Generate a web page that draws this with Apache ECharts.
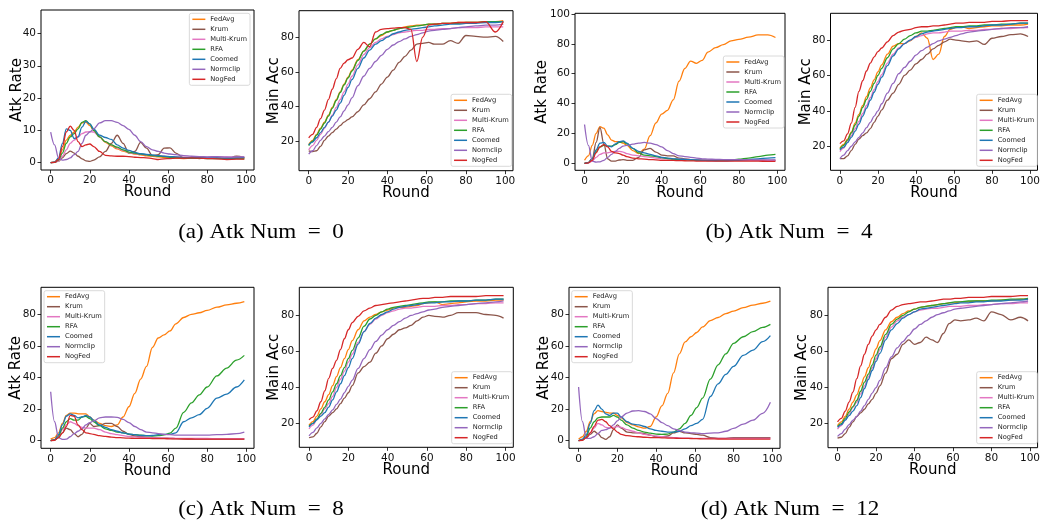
<!DOCTYPE html>
<html><head><meta charset="utf-8">
<script src="https://cdn.jsdelivr.net/npm/echarts@6/dist/echarts.min.js"></script>
<style>html,body{margin:0;padding:0;background:#fff}#c{width:1043px;height:525px}</style>
</head><body><div id="c"></div>
<script>
// ---------------- data ----------------
const rounds = [0,2,4,6,8,10,12,14,16,18,20,22,25,28,31,34,37,40,43,46,49,52,55,58,61,64,68,72,76,80,85,90,95,99];
const methods = ['FedAvg','Krum','Multi-Krum','RFA','Coomed','Normclip','NogFed'];
const colors = ['#ff7f0e','#8c564b','#e377c2','#2ca02c','#1f77b4','#9467bd','#d62728'];
const roundTicks = [0,20,40,60,80,100];
const rateTicksA = [0,10,20,30,40];
const rateTicksB = [0,20,40,60,80,100];
const rateTicksCD = [0,20,40,60,80];
const accTicks = [20,40,60,80];
const captions = ['(a) Atk Num\u2002=\u20020','(b) Atk Num\u2002=\u20024','(c) Atk Num\u2002=\u20028','(d) Atk Num\u2002=\u200212'];

// (a) Atk Num = 0 : attack rate
const a_rate_fedavg   = [0,0.2,1.2,4,7,8.5,9.5,11,12.3,12.6,11.5,10,8,6.3,5.2,4.3,3.6,3.1,2.7,2.4,2.1,2,1.8,1.6,1.5,1.4,1.3,1.4,1.5,1.4,1.4,1.3,1.5,1.4];
const a_rate_krum     = [0,0.2,0.5,1.5,2.8,3.6,3,2,1.2,0.6,0.4,0.8,1.8,3.5,6,8.5,6,3,3.5,6.3,4.5,2.2,2.5,4.5,4.6,3,1.5,1.5,1.3,1.5,1.5,1.2,2,1.6];
const a_rate_mkrum    = [0,0.1,0.5,2,4,6,7,8,9,9.5,9.6,9.5,8,6.5,5.5,4.5,3.8,3.2,2.8,2.6,2.4,2.2,2,2,1.8,1.8,1.7,1.7,1.8,1.7,1.8,1.8,1.7,1.8];
const a_rate_rfa      = [0,0.1,0.8,3,6,8,9,10.5,12.5,13,12,10,8,6.5,5.5,4.8,4,3.3,3,2.7,2.4,2.2,2,1.9,1.7,1.6,1.5,1.4,1.4,1.3,1.3,1.2,1.3,1.2];
const a_rate_coomed   = [0,0.2,1.5,6,10.5,10,7.5,8,11,12.8,12,10.5,8.5,7.8,7.2,5.5,4.5,3.8,3.2,2.8,2.6,2.4,2.2,2,1.9,1.8,1.6,1.6,1.6,1.5,1.5,1.4,1.5,1.6];
const a_rate_normclip = [9.5,5.5,1.5,0.8,1,1.5,2.5,3.5,6,8.5,9.5,10.5,12.3,13,13,12.5,11.5,10.3,8.5,6.5,5,4,3.5,3,2.7,2.5,2.2,2,1.9,1.8,1.9,1.7,1.8,1.8];
const a_rate_nogfed   = [0,0.1,1,5,9.5,11.3,10,6.5,5,5.5,5.8,5,3.5,2.3,2.1,2,2,1.9,1.7,1.6,1.5,1.3,1,1.2,1.3,1.4,1.4,1.5,1.4,1.3,1.2,1,1.1,1.1];
// (a) main accuracy
const a_acc_fedavg   = [18,20.5,24,27.5,31,35,39.5,44,48.5,53,57,61,67,72,76,79,81,83,84,85,86,86.5,87,87,87.5,87.5,88,88,88.5,88.5,88.5,89,89,89.5];
const a_acc_krum     = [14.5,14,14.5,17,20.5,23,25,27,29,31,32.5,34,37,41,44.5,48.5,53,57,61,65.5,69,72.5,76,76.5,77,76,76,78,76.5,81,80.5,80,80.5,77.5];
const a_acc_mkrum    = [15,17.5,20.5,24,27.5,31,35,39.5,44,48.5,53,57.5,64,70,74,77,79,80.5,81.5,82.5,83,83.5,84,84,84.5,84.5,85,85,85.5,85.5,85.5,86,86,86];
const a_acc_rfa      = [17.5,20,23.5,27,30.5,34.5,39,43.5,48,52.5,56.5,60.5,66.5,72,76,79,81.5,83,84,85,85.5,86,86.5,87,87.5,87.5,88,88,88,88.5,88.5,89,89,89];
const a_acc_coomed   = [18,19.5,22,25,28,31,34.5,38,42,46.5,51,55.5,62,68,72.5,76,78,80,82,83,84,84.5,85,85.5,86,86.5,87,87.5,87.5,88,88,88.5,88.5,89];
const a_acc_normclip = [12.5,14.5,17.5,20.5,23,25.5,28,31,34,37.5,41,45,52,57.5,62,66,69.5,73,75.5,77.5,79,80.5,81.5,82.5,83.5,84,84.5,85,85.5,86,86.5,87,87,87.5];
const a_acc_nogfed   = [22,24,28,33,38,44,50,56,62,65,67,68,73,77,74.5,83,84.5,85,85.2,85.5,85.5,84.5,66,80,87,87.5,88,88,88.5,88.5,88.5,89,83,89];

// (b) Atk Num = 4 : attack rate
const b_rate_fedavg   = [2,5,12,20,24.5,23.5,19,15.5,14.5,14.5,13.5,12,8.5,6.5,9.5,18.5,27,33,35.5,42.5,55,63.5,68.5,67,69,74.5,77.5,79.5,82,83,84.5,86,86,84.3];
const b_rate_krum     = [0,0.5,3,14,24,13,3,1.5,1.5,2.2,2.5,2,2,4,9,10,7.5,5.5,5,5,3.5,3,2.5,2.2,2,2,2,2,2,2,2,2,1.8,2];
const b_rate_mkrum    = [0,0.2,1.5,4,6,7,7,7.5,8,8,7.5,6.5,5.5,5,4.5,4,3.5,3,3,2.8,2.7,2.6,2.5,2.5,2.4,2.3,2.2,2.2,2.1,2,2,2,2,2];
const b_rate_rfa      = [0,0.5,3,8,11,12,11.5,11.5,12.5,14,14.5,13,10,7,5.5,5,4.5,3.8,3.2,2.8,2.5,2.3,2.2,2,2,2,2,2,2.2,2.8,3.5,4.5,5.5,6];
const b_rate_coomed   = [0,0.5,3,9,13.5,14,11.5,11,13,14.5,15,13.5,10,8,7,6,5,4,3.5,3,2.8,2.6,2.4,2.2,2,1.8,1.7,1.6,1.8,2,2.5,3,3.5,3.8];
const b_rate_normclip = [26,12,1.5,0.8,1,2,4,6,8,10,11.5,12,12.8,13.5,14,13.5,12.5,11,8.5,6.5,5,4.5,4,3.5,3,2.8,2.6,2.5,2.5,2.4,2.4,2.3,2.3,2.3];
const b_rate_nogfed   = [0,0.3,2,7,11,12.5,11,8,7,6.5,5.5,4.5,3.5,3,2.8,2.5,2.3,2,2,1.9,1.8,1.7,1.6,1.5,1.5,1.5,1.5,1.4,1.4,1.4,1.4,1.4,1.3,1.3];
// (b) main accuracy
const b_acc_fedavg   = [19,21,24,28,33,38,43,48,53,57.5,62,66,72,76.5,78,78,79.5,82,84,81,69,72,82,86,87,87.5,86.5,87,87.5,88,88,88.5,88.5,89];
const b_acc_krum     = [13,13,14.5,17.5,21,24,26,27.5,30,33.5,37,40.5,46,50,55,60,63,66.5,69,72,75,77,79,80.5,80,79.5,79,79.5,77.5,81,82,83,83.5,82];
const b_acc_mkrum    = [17,19,22.5,26,30,34,38.5,43,47.5,52,56.5,60.5,67,72,75.5,78,80,81.5,82.5,83.5,84,84,84.5,85,85,85,85.5,85.5,86,86,86.5,86.5,87,87];
const b_acc_rfa      = [18.5,20.5,23.5,27.5,32,37,42,46.5,51,55.5,60,64,70,75,78,80.5,82.5,84,85,85,85.5,86,86.5,87,87.5,87.5,88,88,88.5,88.5,89,89,89.5,89.5];
const b_acc_coomed   = [18,19.5,22,25,28.5,32.5,37,41.5,46,50.5,55,59,65.5,71,75,78,80,82,83.5,84.5,85,85.5,86,86.5,87,87,87.5,87.5,88,88.5,88.5,89,89.5,89.5];
const b_acc_normclip = [13,15,17.5,20,22.5,25,27.5,30.5,33.5,37,40,44,50,55.5,61,64.5,68,71.5,74,76,78,79.5,80.5,81.5,82.5,83.5,84.5,85,85.5,86,86.5,87,87,87.5];
const b_acc_nogfed   = [21.5,23,27,33,42,51,57,62.5,67,70.5,73.5,75.5,79,82.5,84.5,85.5,86,87,87.5,87.5,88,88,88.5,89,89.5,89.5,90,90,90,90.5,90.5,91,91,91];

// (c) Atk Num = 8 : attack rate
const c_rate_fedavg   = [1,2,5,11,16,17.5,17.5,17,17,17,15,13,11,9.5,9,10,15,21.5,30,39,47,59,65,67,69.5,74,78,80,81,82.5,84.5,86,87,88];
const c_rate_krum     = [0,0.5,2,5,8,7,4.5,2.5,4,8,11,9,9.5,11,11,9,6,4,3,2.5,2.2,2,1.8,1.6,1.5,1.3,1.2,1,1,1,1,1,1,1];
const c_rate_mkrum    = [0,0.5,3,7,10,12,11,9.5,8.5,8,8,8,7,5.5,4.5,3.8,3.2,2.7,2.4,2.2,2,1.9,1.8,1.7,1.6,1.5,1.5,1.4,1.4,1.4,1.3,1.3,1.3,1.3];
const c_rate_rfa      = [0,0.5,3,8,12,14,13,13,15,15.5,14,12,9.5,7.5,6.5,5.5,5,4.2,3.8,3.5,3.2,3,3.2,3.7,4.8,8,18,24,29,34,41,46,51,54];
const c_rate_coomed   = [0,0.5,4,10,15.5,17,16,14.5,15,16,15,13,10,8.5,7,6,5,4.2,3.8,3.4,3.2,3.3,3.8,4,4,5,12,14.5,16.5,20.5,27,29.5,34,38.5];
const c_rate_normclip = [31,12,2,0.8,1,2.5,4.5,6,7.5,10,11.5,12.5,14.5,15,15,14.8,13.5,11.5,9,7,5.5,5,4.5,4,3.8,3.5,3.5,3.5,3.5,3.5,3.8,4,4.5,5.5];
const c_rate_nogfed   = [0,0.3,2,5,9,16,15.5,10,7,5,4.5,4,3.2,2.7,2.3,2,1.8,1.6,1.5,1.5,1.5,1.4,1.3,1.3,1.2,1.2,1.1,1.1,1,1,1,1,1,1];
// (c) main accuracy
const c_acc_fedavg   = [19,21,24,28,32,36,41,46,51,56,61,66,72,77,79,80.5,82,83,84,84.5,84.5,85,85.5,86.5,87,87.5,86,86.5,87,87.5,88,88,88.5,88.5];
const c_acc_krum     = [12,12.5,14.5,18,21,24,26,28,31,34,37,41,48,51.5,54,59,63,67,69.5,72,73,74.5,77,79,80,79.5,79,80,81.5,81.5,81.5,80.5,80,78.5];
const c_acc_mkrum    = [17,19,22,25,28,31,35,40,44.5,49,54,58.5,65,71,75,78,80,81.5,82.5,83.5,84,84,84.5,85,85,85,85.5,85.5,86,86,86.5,86.5,87,87];
const c_acc_rfa      = [18.5,20,22.5,25.5,29,33,37.5,42,46.5,51,56,60.5,67.5,74,78,80,82,83.5,84.5,85,85.5,86,86.5,87,87.5,87.5,87.5,88,88,88,88.5,88.5,89,89];
const c_acc_coomed   = [18,20,22,24,26,29,33,37.5,42,46.5,51,56,64,71,75.5,78.5,80.5,82,83.5,84.5,85,85.5,86,86.5,87,87,87.5,87.5,88,88,88.5,88.5,89,89];
const c_acc_normclip = [13,15,17.5,20,22.5,25,27.5,30.5,33.5,37,40.5,44,50.5,56,61,65.5,69,72,74.5,76.5,78.5,80,81,82,83,83.5,84.5,85,85.5,86,86.5,87,87.5,88];
const c_acc_nogfed   = [22,23.5,27,32,38,45,50.5,55,61,67,72,76,79.5,82.5,84,85.5,86,86.5,87,87.5,88,88.5,89,89.5,89.5,90,90,90.5,90.5,90.5,90.5,91,91,91];

// (d) Atk Num = 12 : attack rate
const d_rate_fedavg   = [1,2.5,6,12,17,19,18.5,18,17.5,17.5,16,14.5,11.5,10,8.7,8,9,15,22,30,43,55,62.5,65.8,68.5,72,76,78,80.5,82,84.2,85.8,87,88.3];
const d_rate_krum     = [0,0.5,2,4,6,4.5,2,0.8,2.5,7,10,8,5.5,5,5,4.5,3.5,2.5,2.5,3,5,6,5,4.5,4,3.5,2,1.5,1.5,2,2,2,2,2];
const d_rate_mkrum    = [0,0.5,2.5,5,8,11,10,8.5,8,8.5,9,8.5,7,6,5,4,3.5,3,2.5,2.2,2,1.8,1.6,1.5,1.5,1.5,1.5,1.5,1.5,1.5,1.5,1.5,1.5,1.5];
const d_rate_rfa      = [0,0.5,3,8,12,14.5,15,15,15,16,15,13,10,8,6.5,5.5,4.8,4.2,4,4.2,5.5,7.5,11,16,21,27,39,48,55,61.6,65.8,69,71.7,73.6];
const d_rate_coomed   = [0,1,4,11,19,22.5,20,17,16,17.5,17.5,15,12,10.5,10,9,7.5,6.5,6,5.5,5.5,6,7.5,9.5,11,13.5,28,36,42,47,54,57.4,62.7,66.5];
const d_rate_normclip = [34,12,1.5,1.5,2.5,4.5,6.5,7,8,10,12.5,15,17.5,18.8,19,18.5,17,14,11.5,9.5,7.5,6.5,5.5,5,4.8,4.5,4.8,5,6,7.8,10.5,13,17.3,24.3];
const d_rate_nogfed   = [0,0.3,2,5,9,13,13.5,12,9.5,7.5,5.5,4,3.2,2.8,2.5,2.2,2,2,1.8,1.7,1.6,1.5,1.5,1.4,1.3,1.2,1.2,1.1,1.1,1,1,1,1,1];
// (d) main accuracy
const d_acc_fedavg   = [19,21,24,28,32,36,41,46,51,56.5,61.5,66,72,76.5,79,81,82.5,83.5,84.5,85,85.5,86,86.5,87,87,87.5,87.5,88,88,88,88.5,88.5,89,89];
const d_acc_krum     = [12,12.5,14.5,18,21,24,26,28,31,33.5,37,41,48,56,58.5,64,66.5,64,65,68,66.5,65,70,75.5,77.5,77,77.5,78.5,77,82,80.5,77.5,79,77];
const d_acc_mkrum    = [17,19,22,25.5,29,32,36.5,41,46,51,56,61,68,73.5,77,79,80.5,82,83,83.5,84,84,84.5,85,85,85,85.5,85.5,86,86,86.5,86.5,87,87];
const d_acc_rfa      = [18.5,20,23,26.5,29.5,33,38,43,47.5,52.5,58,62.5,69.5,75,78,80,82,83.5,84.5,85,85.5,86,86.5,87,87.5,87.5,88,88,88,88.5,88.5,89,89,89.5];
const d_acc_coomed   = [18,19.5,22,24.5,27,30,34.5,39.5,44.5,49.5,54.5,59,66.5,72,75.5,78.5,80.5,82,83.5,84,84.5,85,85.5,86,86.5,87,87,87.5,87.5,88,88,88.5,88.5,89];
const d_acc_normclip = [13,14.5,17,19.5,22,24,27,30,33.5,37,40,44,51,57,62,65.5,69,72.5,75,77,79,80.5,81.5,82.5,83.5,84,84.5,85,85.5,86,86.5,87,87.5,88];
const d_acc_nogfed   = [21,23,27,32,37.5,45,52,58.5,64,68.5,72,75,79,83,85,86,86.5,87,87.5,87.5,88,88.5,89,89,89.5,89.5,90,90,90,90.5,90.5,90.5,91,91];

// ---------------- layout ----------------
const FF = '"DejaVu Sans", sans-serif';
const panels = [
  {s:[a_rate_fedavg,a_rate_krum,a_rate_mkrum,a_rate_rfa,a_rate_coomed,a_rate_normclip,a_rate_nogfed],
   yName:'Atk Rate', ticks:rateTicksA, ymin:-2.25, ymax:47.25, g:[41,10,213,160], gap:16.5, lg:{right:793, top:13.3}},
  {s:[a_acc_fedavg,a_acc_krum,a_acc_mkrum,a_acc_rfa,a_acc_coomed,a_acc_normclip,a_acc_nogfed],
   yName:'Main Acc', ticks:accTicks, ymin:3.0, ymax:95.3, g:[299,10.7,214,160], gap:17.5, lg:{right:531.3, top:94.3}},
  {s:[b_rate_fedavg,b_rate_krum,b_rate_mkrum,b_rate_rfa,b_rate_coomed,b_rate_normclip,b_rate_nogfed],
   yName:'Atk Rate', ticks:rateTicksB, ymin:-4.7, ymax:100.5, g:[575,13.3,210,157], gap:25.5, lg:{right:259, top:56}},
  {s:[b_acc_fedavg,b_acc_krum,b_acc_mkrum,b_acc_rfa,b_acc_coomed,b_acc_normclip,b_acc_nogfed],
   yName:'Main Acc', ticks:accTicks, ymin:6.4, ymax:95.1, g:[830.5,13.3,210,157], gap:17, lg:{right:5.7, top:94.3}},
  {s:[c_rate_fedavg,c_rate_krum,c_rate_mkrum,c_rate_rfa,c_rate_coomed,c_rate_normclip,c_rate_nogfed],
   yName:'Atk Rate', ticks:rateTicksCD, ymin:-4.8, ymax:97.1, g:[41,287.3,213,161], gap:17, lg:{left:44, top:290.7}},
  {s:[c_acc_fedavg,c_acc_krum,c_acc_mkrum,c_acc_rfa,c_acc_coomed,c_acc_normclip,c_acc_nogfed],
   yName:'Main Acc', ticks:accTicks, ymin:6.7, ymax:95.6, g:[299.3,287.3,214,160], gap:17.5, lg:{right:530.7, top:371.7}},
  {s:[d_rate_fedavg,d_rate_krum,d_rate_mkrum,d_rate_rfa,d_rate_coomed,d_rate_normclip,d_rate_nogfed],
   yName:'Atk Rate', ticks:rateTicksCD, ymin:-4.8, ymax:97.1, g:[569,287.3,211,161], gap:17.5, lg:{left:571.7, top:290.7}},
  {s:[d_acc_fedavg,d_acc_krum,d_acc_mkrum,d_acc_rfa,d_acc_coomed,d_acc_normclip,d_acc_nogfed],
   yName:'Main Acc', ticks:accTicks, ymin:6.7, ymax:95.6, g:[828,287.3,212.5,160.4], gap:18, lg:{right:5.7, top:371.7}}
];
const capPos = [[261,232],[789,232],[261,509],[790,509]];

const grid=[], xAxis=[], yAxis=[], series=[], legend=[];
panels.forEach((p,i)=>{
  grid.push({left:p.g[0], top:p.g[1], width:p.g[2], height:p.g[3], show:true,
    borderColor:'#000', borderWidth:1, backgroundColor:'transparent'});
  xAxis.push({gridIndex:i, type:'value', min:-4.95, max:103.95,
    name:'Round', nameLocation:'middle', nameGap:15, nameMoveOverlap:false,
    nameTextStyle:{fontSize:15, color:'#000', fontFamily:FF},
    axisLine:{show:false, onZero:false},
    axisTick:{show:true, length:3.5, lineStyle:{color:'#000', width:0.8}, customValues:roundTicks},
    axisLabel:{customValues:roundTicks, fontSize:10.5, color:'#111', margin:5, fontFamily:FF},
    splitLine:{show:false}});
  yAxis.push({gridIndex:i, type:'value', min:p.ymin, max:p.ymax,
    name:p.yName, nameLocation:'middle', nameGap:p.gap, nameMoveOverlap:false,
    nameTextStyle:{fontSize:15, color:'#000', fontFamily:FF},
    axisLine:{show:false, onZero:false},
    axisTick:{show:true, length:3.5, lineStyle:{color:'#000', width:0.8}, customValues:p.ticks},
    axisLabel:{customValues:p.ticks, fontSize:10.5, color:'#111', margin:5, fontFamily:FF},
    splitLine:{show:false}});
  p.s.forEach((vals,k)=>{
    series.push({type:'line', name:methods[k], xAxisIndex:i, yAxisIndex:i,
      data:rounds.map((r,j)=>[r, vals[j]]),
      showSymbol:false, symbol:'none', smooth:0.35, smoothMonotone:'x',
      lineStyle:{width:1.3, color:colors[k]}, itemStyle:{color:colors[k]},
      emphasis:{disabled:true}, silent:true});
  });
  legend.push(Object.assign({orient:'vertical', data:methods, icon:'rect',
    itemWidth:13, itemHeight:1.5, itemGap:2, selectedMode:false,
    padding:[2,3,2,3], backgroundColor:'rgba(255,255,255,0.85)',
    borderColor:'#d0d0d0', borderWidth:0.8, borderRadius:2,
    textStyle:{fontSize:6.7, lineHeight:8, color:'#222', fontFamily:FF}}, p.lg));
});

const graphic = captions.map((t,i)=>({type:'text', x:capPos[i][0], y:capPos[i][1], scaleX:1.1,
  style:{text:t, font:'21px "Liberation Serif", serif', fill:'#000', align:'center', verticalAlign:'middle'}}));

const chart = echarts.init(document.getElementById('c'), null, {renderer:'canvas'});
chart.setOption({animation:false, grid, xAxis, yAxis, series, legend, graphic});
</script></body></html>
